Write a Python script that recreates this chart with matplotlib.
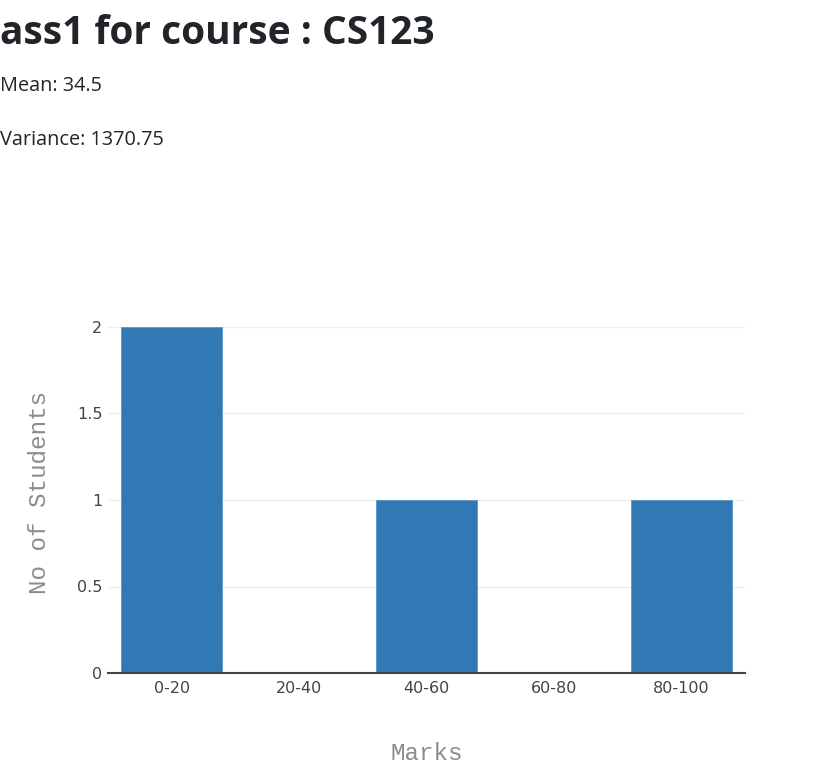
import matplotlib
matplotlib.use("Agg")
import matplotlib.pyplot as plt

# chart data
categories = ["0-20", "20-40", "40-60", "60-80", "80-100"]
counts = [2, 0, 1, 0, 1]
y_ticks = [0, 0.5, 1, 1.5, 2]
y_tick_labels = ["0", "0.5", "1", "1.5", "2"]

title = "ass1 for course : CS123"
mean_text = "Mean: 34.5"
var_text = "Variance: 1370.75"

fig = plt.figure(figsize=(8.17, 7.75), dpi=100)

# page header texts
fig.text(0.0, 1 - 34 / 775, title, fontsize=28, fontweight="bold",
         family="Open Sans", color="#212529", va="center", ha="left")
fig.text(0.0, 1 - 86 / 775, mean_text, fontsize=14.3, family="Open Sans",
         color="#212529", va="center", ha="left")
fig.text(0.0, 1 - 140 / 775, var_text, fontsize=14.3, family="Open Sans",
         color="#212529", va="center", ha="left")

# plot area
ax = fig.add_axes([108 / 817, 1 - 673 / 775, (745 - 108) / 817, (673 - 327) / 775])
x = range(len(categories))
ax.bar(x, counts, width=0.79, color="#3278b5", edgecolor="#5a96cc", linewidth=0.6, zorder=3)

ax.set_xlim(-0.5, len(categories) - 0.5)
ax.set_ylim(0, 2)
ax.set_xticks(list(x))
ax.set_xticklabels(categories)
ax.set_yticks(y_ticks)
ax.set_yticklabels(y_tick_labels)

ax.grid(axis="y", color="#eeeeee", linewidth=1, zorder=0)
for s in ["top", "right", "left"]:
    ax.spines[s].set_visible(False)
ax.spines["bottom"].set_color("#444444")
ax.spines["bottom"].set_linewidth(1.5)
ax.spines["bottom"].set_zorder(4)

ax.tick_params(axis="x", length=0, pad=6, labelsize=11.5, labelcolor="#444444")
ax.tick_params(axis="y", length=0, pad=4, labelsize=11.5, labelcolor="#444444")

ax.set_xlabel("Marks", family="Liberation Mono", fontsize=17.5, color="#8c8c8c", labelpad=33)
ax.set_ylabel("No of Students", family="Liberation Mono", fontsize=17.5, color="#8c8c8c",
              va="center")
ax.yaxis.set_label_coords(-0.107, 0.523)

fig.savefig("out.png", dpi=100)
